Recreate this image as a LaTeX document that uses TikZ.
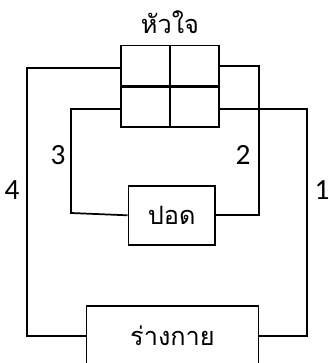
\documentclass[tikz,border=0pt]{standalone}
\usepackage{fontspec}
\setmainfont{Carlito}
\newfontfamily\thaifont[Script=Thai]{Loma}
\usetikzlibrary{positioning}

\tikzset{
  organ/.style={draw, line width=1.3pt, inner sep=0pt},
  flow/.style={line width=1.3pt},
  num/.style={font=\fontsize{22}{24}\selectfont},
  thai/.style={font=\thaifont\fontsize{19}{22}\selectfont}
}

\begin{document}
\begin{tikzpicture}[x=0.75pt, y=-0.75pt]
  \clip (0,0) rectangle (328,363);
  % organs
  \node[organ, minimum width=74pt, minimum height=61pt] (heart) at (170,86.2) {};
  \node[organ, minimum width=65pt, minimum height=44.5pt, thai] (lung) at (171.7,215.3) {ปอด};
  \node[organ, minimum width=129pt, minimum height=44.5pt, thai] (body) at (172.5,335.7) {ร่างกาย};
  \node[thai, above=5pt of heart] (title) {หัวใจ};
  \draw[line width=2pt] (heart.west) -- (heart.east);
  \draw[line width=1.3pt] (heart.north) -- (heart.south);
  % corners
  \coordinate (l4) at (26.7,68.3);
  \coordinate (l3) at (71,109);
  \coordinate (r2) at (258.7,65.7);
  \coordinate (r1) at (307.3,108.7);
  % vessels
  \draw[flow] (heart.east |- r1) -- (r1) |- (body.east);
  \draw[flow] (heart.east |- r2) -- (r2) |- (lung.east);
  \draw[flow] (heart.west |- l3) -- (l3) -- ++(0,104) -- (lung.west);
  \draw[flow] (heart.west |- l4) -- (l4) |- (body.west);
  % labels
  \node[num] (n1) at (322,190) {1};
  \node[num] (n2) at (243,155) {2};
  \node[num] (n3) at (58,155) {3};
  \node[num] (n4) at (12,190) {4};
\end{tikzpicture}
\end{document}
